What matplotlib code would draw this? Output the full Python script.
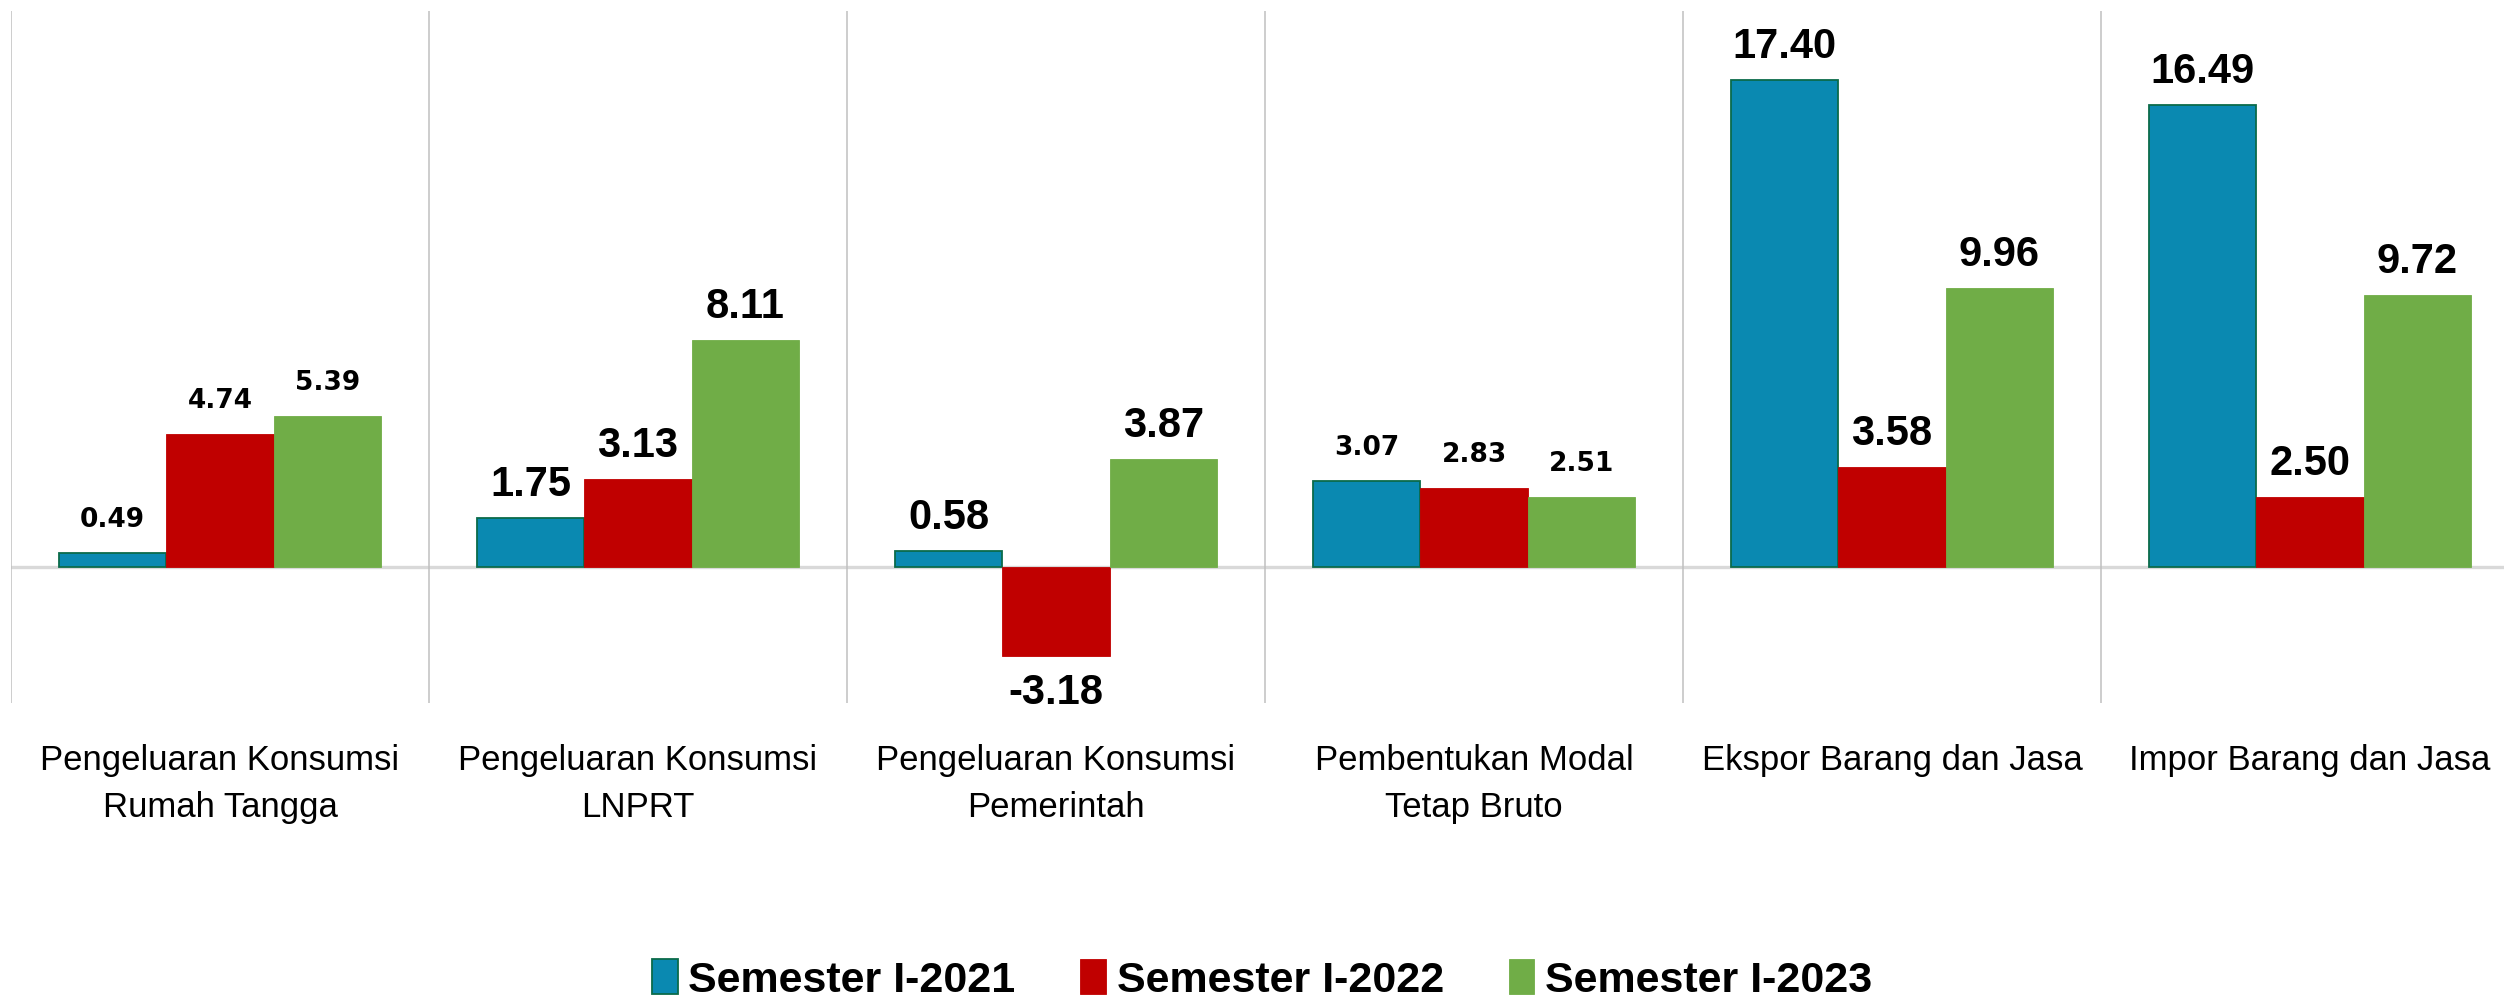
import matplotlib
matplotlib.use("Agg")
import matplotlib.pyplot as plt
import matplotlib.transforms as mtransforms
import numpy as np

categories = [
    "Pengeluaran Konsumsi\nRumah Tangga",
    "Pengeluaran Konsumsi\nLNPRT",
    "Pengeluaran Konsumsi\nPemerintah",
    "Pembentukan Modal\nTetap Bruto",
    "Ekspor Barang dan Jasa",
    "Impor Barang dan Jasa",
]
series_names = ["Semester I-2021", "Semester I-2022", "Semester I-2023"]
s2021 = [0.49, 1.75, 0.58, 3.07, 17.40, 16.49]
s2022 = [4.74, 3.13, -3.18, 2.83, 3.58, 2.50]
s2023 = [5.39, 8.11, 3.87, 2.51, 9.96, 9.72]

colors = ["#0a89b1", "#c00000", "#70ad47"]
edges = ["#0b6b4a", "#c00000", "#70ad47"]

W, H = 2504, 1006
fig = plt.figure(figsize=(W / 100, H / 100), dpi=100)

left_px, right_px, top_px, bot_px = 11, 2504, 11, 703
ax = fig.add_axes([left_px / W, 1 - bot_px / H, (right_px - left_px) / W, (bot_px - top_px) / H])
cat_px = 418.0
ax.set_xlim(-0.5, -0.5 + (right_px - left_px) / cat_px)
ppu = 28.0
zero_px = 567
ax.set_ylim(-(bot_px - zero_px) / ppu, (zero_px - top_px) / ppu)
ax.axis("off")

x = np.arange(len(categories))
bw = 0.257
narrow = ["Liberation Sans", "DejaVu Sans"]
wide_cats = {0, 3}

ax.axhline(0, color="#d9d9d9", lw=2.4, zorder=1)
for b in np.arange(-0.5, len(categories) - 0.5, 1.0):
    ax.axvline(b, color="#c0c0c0", lw=1.1, zorder=1)

all_series = [s2021, s2022, s2023]
for k, (vals, name) in enumerate(zip(all_series, series_names)):
    pos = x + (k - 1) * bw
    ax.bar(pos, vals, width=bw, color=colors[k], edgecolor=edges[k],
           linewidth=1.3 if k == 0 else 0.6, label=name, zorder=2)
    for i, (p, v) in enumerate(zip(pos, vals)):
        if i in wide_cats:
            fam, fs = ["DejaVu Sans"], 19
        else:
            fam, fs = narrow, 30
        off = 33 if v >= 0 else -37
        ax.annotate(f"{v:.2f}", xy=(p, v), xytext=(0, off), textcoords="offset pixels",
                    ha="center", va="center", fontsize=fs, fontweight="bold",
                    family=fam, color="black", zorder=3)

trans = mtransforms.blended_transform_factory(ax.transData, fig.transFigure)
for i, c in enumerate(categories):
    ax.text(i, 1 - 744 / H, c, transform=trans, ha="center", va="top",
            fontsize=25, family=narrow, color="black", linespacing=1.55,
            clip_on=False)

leg = fig.legend(loc="center", bbox_to_anchor=(1262 / W, 1 - 980 / H), ncol=3,
                 frameon=False, prop={"family": narrow, "weight": "bold", "size": 31},
                 handlelength=0.6, handleheight=0.85, handletextpad=0.25,
                 columnspacing=1.5, borderaxespad=0)

fig.savefig("out.png", dpi=100)
